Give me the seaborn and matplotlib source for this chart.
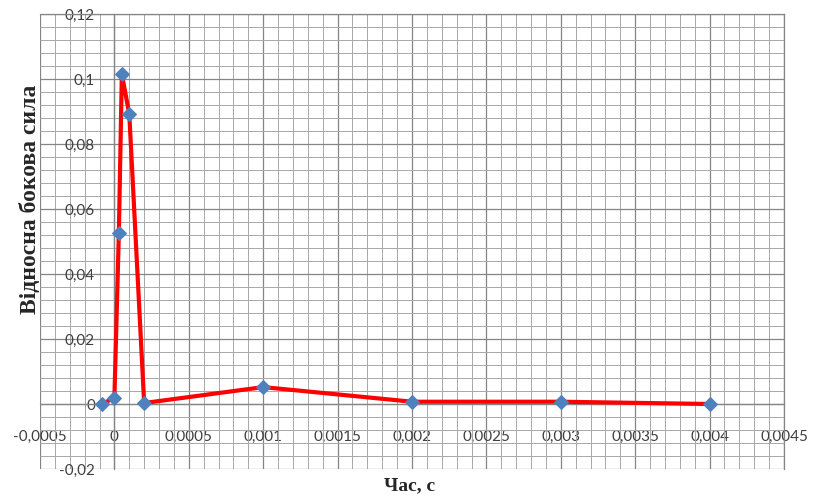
import numpy as np
import pandas as pd
import matplotlib
matplotlib.use("Agg")
import matplotlib.pyplot as plt
from matplotlib.ticker import MultipleLocator, FuncFormatter
import seaborn as sns

# data
time_s = [-0.00008, 0.0, 0.00003, 0.00005, 0.0001, 0.0002, 0.001, 0.002, 0.003, 0.004]
side_force = [0.0, 0.002, 0.0526, 0.1015, 0.0892, 0.0003, 0.0052, 0.0007, 0.0007, 0.0]

x_label = "Час, с"
y_label = "Відносна бокова сила"

df = pd.DataFrame({"t": time_s, "f": side_force})

sns.set_style("white")
plt.rcParams['font.family'] = ['Lato', 'DejaVu Sans']

fig = plt.figure(figsize=(8.22, 4.99), dpi=100)
ax = fig.add_axes([40 / 822, 1 - 469 / 499, (784 - 40) / 822, (469 - 14) / 499])

sns.lineplot(data=df, x="t", y="f", sort=False, estimator=None, ax=ax,
             color="#ff0000", linewidth=3, marker="D", markersize=7,
             markerfacecolor="#4f81bd", markeredgecolor="#4f81bd", zorder=5)

ax.set_xlim(-0.0005, 0.0045)
ax.set_ylim(-0.02, 0.12)

ax.xaxis.set_major_locator(MultipleLocator(0.0005))
ax.xaxis.set_minor_locator(MultipleLocator(0.0001))
ax.yaxis.set_major_locator(MultipleLocator(0.02))
ax.yaxis.set_minor_locator(MultipleLocator(0.004))


def comma_fmt(v, pos):
    v = round(v, 8)
    if v == 0:
        return "0"
    return ("%g" % v).replace(".", ",")


ax.xaxis.set_major_formatter(FuncFormatter(comma_fmt))
ax.yaxis.set_major_formatter(FuncFormatter(comma_fmt))

ax.grid(which="major", color="#858585", linewidth=0.9)
ax.grid(which="minor", color="#a8a8a8", linewidth=0.7)
ax.set_axisbelow(True)

# axes cross at zero, like the excel chart
ax.spines["left"].set_position(("data", 0))
ax.spines["bottom"].set_position(("data", 0))
for s in ax.spines.values():
    s.set_color("#858585")
    s.set_linewidth(0.9)

ax.tick_params(axis="both", which="both", length=0, labelsize=11, colors="#404040")
ax.tick_params(axis="x", pad=19)
ax.tick_params(axis="y", pad=14)

ax.set_xlabel("")
ax.set_ylabel("")
fig.text(410 / 822, 1 - 486 / 499, x_label, ha="center", va="center",
         fontsize=14, fontweight="bold", family="Liberation Serif")
fig.text(31 / 822, 1 - 199 / 499, y_label, ha="center", va="center", rotation=90,
         fontsize=17, fontweight="bold", family="Liberation Serif")

fig.savefig("out.png", dpi=100)
